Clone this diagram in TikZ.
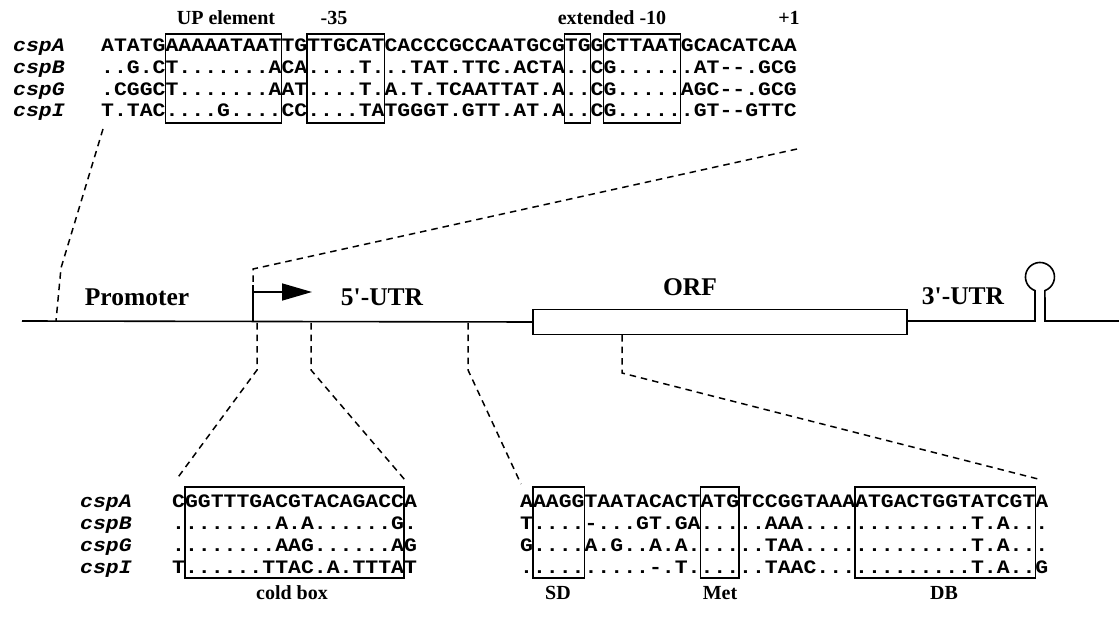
\documentclass[tikz,border=0pt]{standalone}
\usepackage{fontspec}
\setmainfont{Liberation Serif}
\newfontfamily\seqfont[FakeStretch=1.13]{Liberation Mono}
\usetikzlibrary{arrows.meta}
\def\cw{12.882}
\begin{document}
\begin{tikzpicture}[x=1pt,y=-1pt,
  seq/.style={anchor=base west, inner sep=0pt, font=\seqfont\bfseries\fontsize{19}{19}\selectfont},
  gene/.style={anchor=base west, inner sep=0pt, font=\seqfont\bfseries\itshape\fontsize{19}{19}\selectfont},
  lab/.style={inner sep=0pt, font=\bfseries\fontsize{20}{20}\selectfont},
  biglab/.style={inner sep=0pt, font=\bfseries\fontsize{25.5}{25.5}\selectfont},
  sbox/.style={draw, line width=1.3pt},
  dline/.style={dash pattern=on 6.5pt off 5pt, line width=1.5pt},
  dna/.style={line width=1.6pt},
]
\useasboundingbox (0,0) rectangle (1119,620);

% ---------- top alignment ----------
\node[lab] (lup) at (226,18) {UP element};
\node[lab] (l35) at (334,18) {-35};
\node[lab] (l10) at (612,18) {extended -10};
\node[lab] (lp1) at (789,18) {+1};

\node[gene] (gA) at (13,52) {cspA};
\node[gene] (gB) at (13,74) {cspB};
\node[gene] (gG) at (13,95.5) {cspG};
\node[gene] (gI) at (13,117) {cspI};

\node[seq] (tA) at (101,52) {ATATGAAAAATAATTGTTGCATCACCCGCCAATGCGTGGCTTAATGCACATCAA};
\node[seq] (tB) at (101,74) {..G.CT.......ACA....T...TAT.TTC.ACTA..CG......AT--.GCG};
\node[seq] (tG) at (101,95.5) {.CGGCT.......AAT....T.A.T.TCAATTAT.A..CG.....AGC--.GCG};
\node[seq] (tI) at (101,117) {T.TAC....G....CC....TATGGGT.GTT.AT.A..CG......GT--GTTC};

\draw[sbox] ({101+5*\cw},34) rectangle ({101+14*\cw},123);
\draw[sbox] ({101+16*\cw},34) rectangle ({101+22*\cw},123);
\draw[sbox] ({101+36*\cw},34) rectangle ({101+38*\cw},123);
\draw[sbox] ({101+39*\cw},34) rectangle ({101+45*\cw},123);

% ---------- gene map ----------
\coordinate (L0) at (22,321);
\node[draw, dna, minimum width=374pt, minimum height=25pt, inner sep=0pt, anchor=west] (orf) at (532,322) {};
\coordinate (stemL) at (1035,321);
\coordinate (stemR) at (1045,321);
\coordinate (R0) at (1119,321);
\draw[dna] (L0) -- (orf.west);
\draw[dna] (orf.east |- stemL) -- (stemL) -- (1035,290.6) arc (110:430:14.5) -- (stemR) -- (R0);

\coordinate (tss) at (253,321);
\coordinate (tssTop) at (253,285);
\draw[dna] (tss) -- (tssTop);
\draw[dna, -{Triangle[length=30pt,width=17pt]}] (253,292) -- (312,292);

\node[biglab] (prom) at (137,297) {Promoter};
\node[biglab] (utr5) at (382,297) {5\textquotesingle-UTR};
\node[biglab] (orfl) at (690,287) {ORF};
\node[biglab] (utr3) at (963,296) {3\textquotesingle-UTR};

% ---------- dashed zoom lines, top ----------
\coordinate (a1) at (103,129);
\coordinate (a2) at (61,268);
\coordinate (a3) at (56,321);
\draw[dline] (a1) -- (a2) -- (a3);
\coordinate (b1) at (797,149);
\coordinate (b2) at (253,269);
\draw[dline] (b1) -- (b2) -- (tssTop);

% ---------- bottom left alignment ----------
\node[gene] (cA) at (80,507) {cspA};
\node[gene] (cB) at (80,529) {cspB};
\node[gene] (cG) at (80,551) {cspG};
\node[gene] (cI) at (80,573) {cspI};

\node[seq] (lA) at (172,507) {CGGTTTGACGTACAGACCA};
\node[seq] (lB) at (172,529) {........A.A......G.};
\node[seq] (lG) at (172,551) {........AAG......AG};
\node[seq] (lI) at (172,573) {T......TTAC.A.TTTAT};
\draw[sbox] ({172+1*\cw},487) rectangle ({172+18*\cw},578);
\node[lab] (cold) at (292,593) {cold box};

% ---------- bottom right alignment ----------
\node[seq] (rA) at (520,507) {AAAGGTAATACACTATGTCCGGTAAAATGACTGGTATCGTA};
\node[seq] (rB) at (520,529) {T....-...GT.GA.....AAA.............T.A...};
\node[seq] (rG) at (520,551) {G....A.G..A.A......TAA.............T.A...};
\node[seq] (rI) at (520,573) {..........-.T......TAAC............T.A..G};
\draw[sbox] ({520+1*\cw},487) rectangle ({520+5*\cw},578);
\draw[sbox] ({520+14*\cw},487) rectangle ({520+17*\cw},578);
\draw[sbox] ({520+26*\cw},487) rectangle ({520+40*\cw},578);
\node[lab] (sd) at (558,593) {SD};
\node[lab] (met) at (720,593) {Met};
\node[lab] (db) at (944,593) {DB};

% ---------- dashed zoom lines, bottom ----------
\coordinate (c1) at (257,323); \coordinate (c2) at (257,370); \coordinate (c3) at (176,480);
\coordinate (d1) at (311,323); \coordinate (d2) at (311,370); \coordinate (d3) at (405,480);
\coordinate (e1) at (468,323); \coordinate (e2) at (468,370); \coordinate (e3) at (521,484);
\coordinate (f1) at (622,335); \coordinate (f2) at (622,373); \coordinate (f3) at (1042,480);
\draw[dline] (c1) -- (c2) -- (c3);
\draw[dline] (d1) -- (d2) -- (d3);
\draw[dline] (e1) -- (e2) -- (e3);
\draw[dline] (f1) -- (f2) -- (f3);
\end{tikzpicture}
\end{document}
